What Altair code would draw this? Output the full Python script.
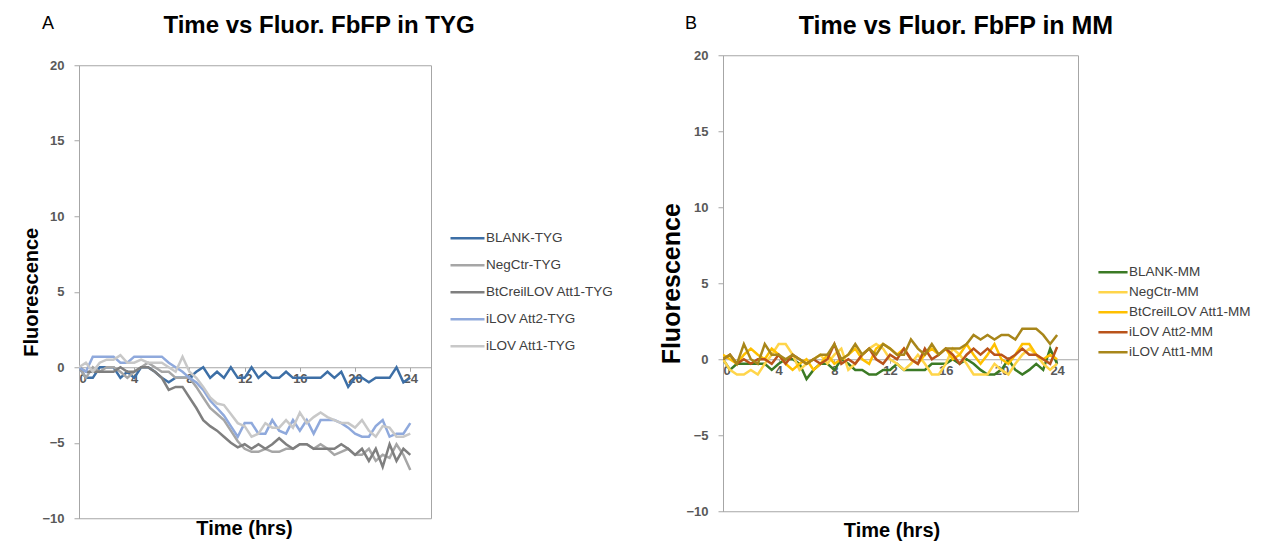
import altair as alt
import pandas as pd

time_hrs = [0, 0.5, 1, 1.5, 2, 2.5, 3, 3.5, 4, 4.5, 5, 5.5, 6, 6.5, 7, 7.5, 8, 8.5, 9, 9.5,
            10, 10.5, 11, 11.5, 12, 12.5, 13, 13.5, 14, 14.5, 15, 15.5, 16, 16.5, 17, 17.5,
            18, 18.5, 19, 19.5, 20, 20.5, 21, 21.5, 22, 22.5, 23, 23.5, 24]

names_tyg = ["BLANK-TYG", "NegCtr-TYG", "BtCreilLOV Att1-TYG", "iLOV Att2-TYG", "iLOV Att1-TYG"]
colors_tyg = ["#3D6FA6", "#A6A6A6", "#7F7F7F", "#8FA9DC", "#C8C8C8"]

blank_tyg = [0, -0.7, -0.7, 0, 0, 0, -0.7, -0.3, -0.7, 0, 0, -0.3, -0.7, -1, -0.7, -0.7, -0.7, -0.3, 0, -0.7,
             -0.3, -0.7, 0, -0.7, -0.7, 0, -0.7, -0.3, -0.7, -0.7, -0.3, -0.7, -0.7, -0.7, -0.7, -0.7, -0.3, -0.7,
             -0.3, -1.3, -0.7, -0.7, -1, -0.7, -0.7, -0.7, 0, -1, -0.7]
negctr_tyg = [0, -0.7, 0, -0.3, 0, 0, -0.3, -0.7, -0.3, 0, 0.3, 0, -0.3, -0.3, -0.7, -0.7, -0.7, -1.3, -2, -2.7,
              -3.1, -3.5, -4.2, -4.9, -5.4, -5.6, -5.6, -5.4, -5.6, -5.6, -5.4, -5.4, -5.1, -5.1, -5.4, -5.1,
              -5.4, -5.8, -5.6, -5.4, -5.8, -5.8, -5.4, -6.2, -5.8, -6.0, -5.1, -5.8, -6.8]
btcreil_tyg = [0, -0.3, -0.3, -0.3, -0.3, -0.3, 0, -0.3, -0.3, 0, 0, -0.3, -0.7, -1.5, -1.3, -1.3, -2, -2.7, -3.5,
               -3.9, -4.2, -4.6, -5, -5.3, -5.1, -5.4, -5.1, -5.4, -5.1, -4.7, -5.1, -5.4, -5.1, -5.1, -5.4,
               -5.4, -5.4, -5.4, -5.1, -5.4, -5.8, -5.4, -6.2, -5.4, -6.6, -5.1, -6.2, -5.4, -5.8]
ilov2_tyg = [0, -0.3, 0.7, 0.7, 0.7, 0.7, 0.3, 0.3, 0.7, 0.7, 0.7, 0.7, 0.7, 0.3, 0, -0.3, -0.7, -1, -1.5, -2.2,
             -2.7, -3.2, -3.9, -4.6, -3.7, -3.7, -4.4, -4.4, -3.5, -4.2, -4.4, -3.5, -4.2, -3.5, -4.4, -3.5,
             -3.5, -3.5, -3.7, -4.0, -4.4, -4.6, -4.6, -3.9, -3.5, -4.6, -4.4, -4.4, -3.7]
ilov1_tyg = [0, 0.3, -0.3, 0.3, 0.5, 0.5, 0.8, 0.3, 0.3, 0.5, 0.3, 0.3, 0.3, 0, -0.3, 0.7, -0.3, -0.7, -1.3, -2,
             -2.4, -2.5, -3.1, -3.7, -3.9, -4.6, -4.4, -3.7, -4.0, -4.0, -3.5, -4.0, -3.0, -3.7, -3.3, -3.0,
             -3.3, -3.5, -3.7, -3.7, -4.0, -3.5, -4.2, -4.6, -3.9, -4.0, -4.6, -4.6, -4.4]

names_mm = ["BLANK-MM", "NegCtr-MM", "BtCreilLOV Att1-MM", "iLOV Att2-MM", "iLOV Att1-MM"]
colors_mm = ["#3B7A25", "#FFD54A", "#FFC000", "#B9531B", "#A8861A"]

blank_mm = [0, -0.7, -0.3, -0.3, -0.3, -0.3, -0.3, -0.7, -0.3, 0, 0, -0.3, -1.3, -0.7, -0.3, -0.3, -0.7, 0, -0.3,
            -0.7, -0.7, -1.0, -1.0, -0.7, -0.7, -0.3, -0.7, -0.7, -0.7, -0.7, -0.3, -0.3, -0.3, 0, -0.3, 0,
            -0.3, -0.7, -1.0, -1.0, -0.7, 0, -0.7, -1.0, -0.7, -0.3, -0.7, 0.7, -0.3]
negctr_mm = [0, -0.7, -1.0, -1.0, -0.7, -1.0, -0.3, 0.3, 1.0, 1.0, 0.3, -0.7, -0.3, 0, 0.3, -0.3, 0.3, 0.7, -0.7,
             -0.3, 0.3, 0.7, 1.0, 0.7, 0, -0.3, -0.7, -0.3, 0.3, -0.3, -1.0, -1.0, -0.3, 0.7, 0.3, -0.3, -1.0,
             -1.0, -1.0, -0.3, -0.7, -1.0, -0.3, 0.3, 0.7, 0.3, -0.3, -0.7, -0.3]
btcreil_mm = [0.3, 0, -0.3, 0.3, 0.7, 0.3, 0, 0.7, 0.3, -0.3, -0.7, -0.3, 0, -0.7, -0.3, 0.3, -0.3, 0, 0.3, 0.7,
              0, -0.3, 0.7, 1.0, 0.7, 0.3, 0.7, 0, -0.3, 0.3, 0.7, 0.3, 0.7, 0, 0.3, 1.0, 0.3, -0.3, 0.3, 1.0,
              0, -0.3, 0.3, 1.0, 1.0, 0.3, 0, 0.3, 0]
ilov2_mm = [0, 0.3, -0.3, 0, -0.3, 0, 0, -0.3, 0.3, -0.3, 0.3, 0, -0.3, 0, -0.3, 0, 1.0, -0.3, 0, -0.3, 0.3,
            0.7, 0, -0.3, 0.3, 0, 0.7, 0, -0.3, 0.7, 0, 0.3, 0.7, 0.3, -0.3, 0.3, 0.7, 0.3, 0.7, 0.3, 0.3, 0,
            0.3, 0.7, 0.3, 0.3, 0, -0.3, 0.8]
ilov1_mm = [0, 0.3, -0.3, 1.0, 0, -0.3, 1.0, 0.3, 0.3, 0, 0.3, 0, -0.3, 0, 0.3, 0.3, 1.0, 0, 0.3, 1.0, 0.3,
            0.7, 0.3, 1.0, 0.7, 0.3, 0.3, 1.3, 0.7, 0.3, 1.0, 0.3, 0.7, 0.7, 0.7, 1.0, 1.6, 1.3, 1.6, 1.3,
            1.6, 1.6, 1.3, 2.0, 2.0, 2.0, 1.6, 1.0, 1.6]

x_ticks = [0, 4, 8, 12, 16, 20, 24]
y_ticks = [-10, -5, 0, 5, 10, 15, 20]

FONT = "Liberation Sans"
LBL_FONT = "Liberation Sans Narrow, Liberation Sans, Arial"
GRAY = "#A6A6A6"


def long_df(names, series):
    rows = []
    for n, vals in zip(names, series):
        for t, v in zip(time_hrs, vals):
            rows.append({"t": t, "v": v, "s": n})
    return pd.DataFrame(rows)


def panel(df, names, colors, title, title_size, letter, width, height, xtitle, xtitle_pad,
          xtitle_dx, xtitle_lh, leg_x, leg_y, leg_row, sym_size, ytitle_size, ytitle_pad,
          title_x, title_y, letter_x, letter_y):
    lines = alt.Chart(df).mark_line(strokeWidth=2.5, clip=True).encode(
        x=alt.X("t:Q", scale=alt.Scale(domain=[0, 25.5], nice=False, zero=False),
                axis=alt.Axis(values=x_ticks, offset=-height / 3.0, title=xtitle,
                              titlePadding=xtitle_pad, titleX=width / 2.0 + xtitle_dx,
                              titleFont=FONT, titleFontSize=20, titleLineHeight=xtitle_lh,
                              titleFontWeight="bold", titleColor="#000000",
                              labelFont=LBL_FONT, labelFontSize=13, labelFontWeight="bold",
                              labelColor="#595959", domainColor=GRAY, tickColor=GRAY,
                              tickSize=4, grid=False, labelPadding=1)),
        y=alt.Y("v:Q", scale=alt.Scale(domain=[-10, 20], nice=False, zero=False),
                axis=alt.Axis(values=y_ticks, title="Fluorescence", titleFont=FONT,
                              titleFontSize=ytitle_size, titleFontWeight="bold",
                              titleColor="#000000", titlePadding=ytitle_pad,
                              labelFont=LBL_FONT, labelFontSize=13, labelFontWeight="bold",
                              labelColor="#595959", domainColor=GRAY, tickColor=GRAY,
                              tickSize=5, grid=False, labelPadding=10)),
        color=alt.Color("s:N", scale=alt.Scale(domain=names, range=colors),
                        legend=alt.Legend(title=None, orient="none", legendX=leg_x, legendY=leg_y,
                                          symbolType="stroke", symbolStrokeWidth=2.5,
                                          symbolSize=sym_size, clipHeight=14,
                                          rowPadding=leg_row - 14, labelFont=FONT,
                                          labelFontSize=13.5, labelColor="#404040",
                                          labelOffset=0)),
    )
    txt = pd.DataFrame({"l": [letter], "ttl": [title]})
    lbl = alt.Chart(txt).mark_text(
        font=FONT, fontSize=18, color="#000000", align="left", baseline="middle"
    ).encode(x=alt.value(letter_x), y=alt.value(letter_y), text="l:N")
    ttl = alt.Chart(txt).mark_text(
        font=FONT, fontSize=title_size, fontWeight="bold", color="#000000", align="center",
        baseline="middle"
    ).encode(x=alt.value(title_x), y=alt.value(title_y), text="ttl:N")
    return alt.layer(lines, lbl, ttl).properties(width=width, height=height)


df_a = long_df(names_tyg, [blank_tyg, negctr_tyg, btcreil_tyg, ilov2_tyg, ilov1_tyg])
df_b = long_df(names_mm, [blank_mm, negctr_mm, btcreil_mm, ilov2_mm, ilov1_mm])

pa = panel(df_a, names_tyg, colors_tyg, "Time vs Fluor. FbFP in TYG", 24, "A", 352, 453,
           "Time (hrs)", 133, -11, 20,
           370, 166, 27, 1156, 20, 0, 240, -39, -37, -41)
pb = panel(df_b, names_mm, colors_mm, "Time vs Fluor. FbFP in MM", 25, "B", 355, 456,
           ["Time (hrs)", " "], 143, -9, 8,
           374, 210, 20, 850, 25, 1, 233, -29, -38, -31)

chart = alt.hconcat(pa, pb, spacing=44, center=True).resolve_scale(color="independent").properties(
    padding={"left": 13, "top": 5, "right": 0, "bottom": 0}
).configure_view(stroke=GRAY, strokeWidth=1)

chart.save("out.html", embed_options={"renderer": "svg", "actions": False})
